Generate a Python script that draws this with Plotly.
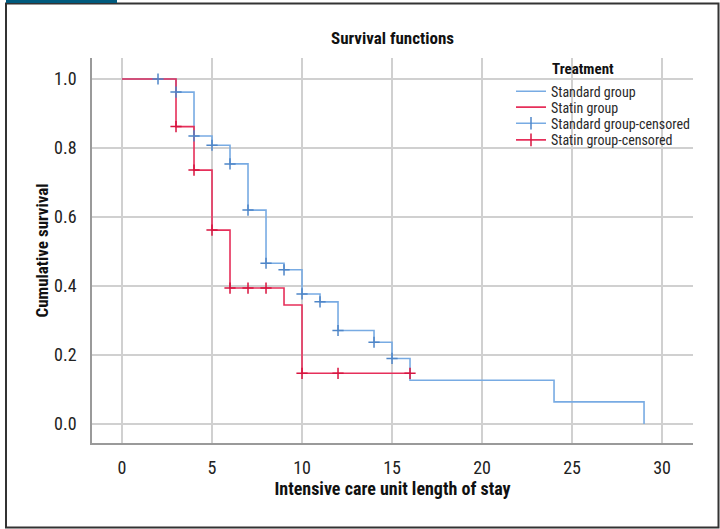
import plotly.graph_objects as go

# Standard group (Kaplan-Meier steps)
std_time = [0, 3, 4, 5, 6, 7, 8, 9, 10, 11, 12, 14, 15, 16, 24, 29]
std_surv = [1.0, 0.962, 0.835, 0.808, 0.754, 0.620, 0.466, 0.447, 0.377, 0.354, 0.271, 0.237, 0.190, 0.127, 0.064, 0.0]
std_cens_time = [2, 3, 4, 5, 6, 7, 8, 9, 10, 11, 12, 14, 15]
std_cens_surv = [1.0, 0.962, 0.835, 0.808, 0.754, 0.620, 0.466, 0.447, 0.377, 0.354, 0.271, 0.237, 0.190]

# Statin group
sta_time = [0, 3, 4, 5, 6, 9, 10, 16]
sta_surv = [1.0, 0.862, 0.736, 0.562, 0.394, 0.345, 0.147, 0.147]
sta_cens_time = [3, 4, 5, 6, 7, 8, 10, 12, 16]
sta_cens_surv = [0.862, 0.736, 0.562, 0.394, 0.394, 0.394, 0.147, 0.147, 0.147]

x_ticks = [0, 5, 10, 15, 20, 25, 30]
y_ticks = [0.0, 0.2, 0.4, 0.6, 0.8, 1.0]

BLUE = "#78abe3"
BLUE_M = "#4f86c8"
RED = "#e62f5a"
RED_M = "#d8143f"
FONT = "Liberation Sans Narrow, Roboto Condensed, Arial Narrow, Liberation Sans, sans-serif"

L, R, T, B = 92, 27, 58, 86
PW, PH = 720 - L - R, 529 - T - B


def px_x(px):
    return (px - L) / PW


def px_y(py):
    return (529 - B - py) / PH


fig = go.Figure()
fig.add_trace(go.Scatter(x=std_time, y=std_surv, mode="lines", line=dict(color=BLUE, width=1.6, shape="hv"),
                         name="Standard group", legend="legend"))
fig.add_trace(go.Scatter(x=sta_time, y=sta_surv, mode="lines", line=dict(color=RED, width=1.6, shape="hv"),
                         name="Statin group", legend="legend2"))
fig.add_trace(go.Scatter(x=std_cens_time, y=std_cens_surv, mode="markers", showlegend=False,
                         marker=dict(symbol="cross-thin", size=8, line=dict(color=BLUE_M, width=1.5)),
                         name="Standard group-censored"))
fig.add_trace(go.Scatter(x=sta_cens_time, y=sta_cens_surv, mode="markers", showlegend=False,
                         marker=dict(symbol="cross-thin", size=8, line=dict(color=RED_M, width=1.5)),
                         name="Statin group-censored"))
# legend entries for censored marks
fig.add_trace(go.Scatter(x=[None], y=[None], mode="lines+markers", name="Standard group-censored",
                         line=dict(color=BLUE, width=1.6), legend="legend3",
                         marker=dict(symbol="line-ns", size=9, line=dict(color=BLUE_M, width=1.5))))
fig.add_trace(go.Scatter(x=[None], y=[None], mode="lines+markers", name="Statin group-censored",
                         line=dict(color=RED, width=1.6), legend="legend4",
                         marker=dict(symbol="line-ns", size=9, line=dict(color=RED_M, width=1.5))))

item_centers = [90.7, 106.5, 122.7, 139.3]
leg_common = dict(xanchor="left", yanchor="top", font=dict(size=14, color="#2a2a2a"),
                  bgcolor="rgba(0,0,0,0)", itemwidth=30, x=px_x(511))

fig.update_layout(
    width=720, height=529,
    margin=dict(l=L, r=R, t=T, b=B),
    paper_bgcolor="white", plot_bgcolor="white",
    font=dict(family=FONT, color="#222222", size=18),
    title=dict(text="<b>Survival functions</b>", x=0.5, xanchor="center", xref="paper",
               y=1 - 38 / 529, yanchor="middle", font=dict(size=17, color="#111111")),
    legend=dict(**leg_common, y=px_y(item_centers[0] - 15)),
    legend2=dict(**leg_common, y=px_y(item_centers[1] - 15)),
    legend3=dict(**leg_common, y=px_y(item_centers[2] - 15)),
    legend4=dict(**leg_common, y=px_y(item_centers[3] - 15)),
    showlegend=True,
)
fig.update_xaxes(range=[-1.667, 31.72], tickvals=x_ticks, ticktext=[str(v) for v in x_ticks],
                 showgrid=True, gridcolor="#d0d0d0", gridwidth=1.5, zeroline=False,
                 showline=True, linecolor="#9a9a9a", linewidth=1.5, ticks="", ticklabelstandoff=8,
                 title=dict(text="<b>Intensive care unit length of stay</b>", font=dict(size=18, color="#111111"), standoff=5),
                 tickfont=dict(size=18))
fig.update_yaxes(range=[-0.0551, 1.0609], tickvals=y_ticks, ticktext=[f"{v:.1f}" for v in y_ticks],
                 showgrid=True, gridcolor="#d0d0d0", gridwidth=1.5, zeroline=False,
                 showline=True, linecolor="#9a9a9a", linewidth=1.5, ticks="", ticklabelstandoff=10,
                 title=dict(text="<b>Cumulative survival</b>", font=dict(size=17, color="#111111"), standoff=1),
                 tickfont=dict(size=18))

fig.add_annotation(text="<b>Treatment</b>", xref="paper", yref="paper",
                   x=px_x(550), y=px_y(69), xanchor="left", yanchor="middle",
                   showarrow=False, font=dict(size=15, color="#111111"))

# outer frame and top tab
fig.add_shape(type="rect", xref="paper", yref="paper",
              x0=px_x(6), x1=px_x(718.5), y0=px_y(527.5), y1=px_y(3.5),
              line=dict(color="#333333", width=2), fillcolor="rgba(0,0,0,0)", layer="below")
fig.add_shape(type="rect", xref="paper", yref="paper",
              x0=px_x(6), x1=px_x(117), y0=px_y(3), y1=px_y(-1),
              line=dict(width=0), fillcolor="#005a7d")

fig.write_html("out.html", config={"displayModeBar": False},
               post_script="document.body.style.margin='0px';document.body.style.overflow='hidden';")
